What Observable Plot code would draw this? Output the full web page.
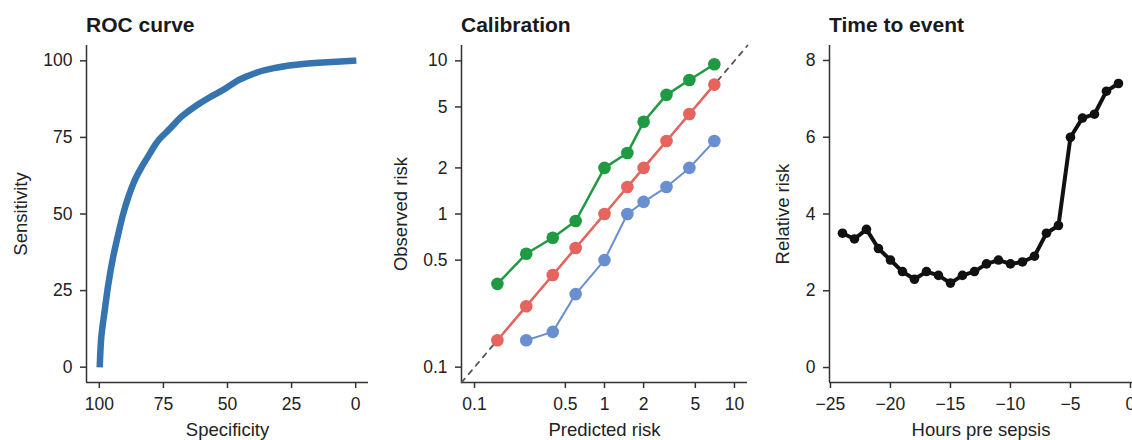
<!DOCTYPE html>
<html><head><meta charset="utf-8">
<script src="https://cdn.jsdelivr.net/npm/d3@7"></script>
<script src="https://cdn.jsdelivr.net/npm/@observablehq/plot@0.6"></script>
<style>
body{margin:0;background:#fff;font-family:"Liberation Sans",Arial,sans-serif;}
#wrap{position:relative;width:1132px;height:440px;overflow:hidden;background:#fff;}
.panel{position:absolute;top:0;}
.title{height:40px;position:relative;}
.title span{position:absolute;top:14px;font-weight:bold;font-size:21px;line-height:21px;color:#1a1a1a;white-space:nowrap;}
</style></head><body><div id="wrap"></div>
<script>
// ROC curve
const rocSpecificity = [99.8, 99.2, 97.9, 96.5, 94.6, 92.6, 90.7, 88.7, 86.2, 83.5, 80.3, 77.0, 72.5, 67.3, 62.1, 56.9, 51.7, 42.3, 31.9, 21.5, 11.1, 1.0];
const rocSensitivity = [1.0, 10.0, 18.5, 27.0, 36.0, 43.5, 50.0, 55.5, 61.0, 65.3, 69.7, 74.0, 77.8, 82.2, 85.4, 88.1, 90.5, 95.0, 97.6, 98.9, 99.5, 100.0];
const rocXTicks = [100, 75, 50, 25, 0];
const rocYTicks = [0, 25, 50, 75, 100];

// Calibration
const calibPredicted = [0.15, 0.25, 0.4, 0.6, 1, 1.5, 2, 3, 4.5, 7];
const calibGreen = [0.35, 0.55, 0.7, 0.9, 2, 2.5, 4, 6, 7.5, 9.5];
const calibRed = [0.15, 0.25, 0.4, 0.6, 1, 1.5, 2, 3, 4.5, 7];
const calibBluePredicted = [0.25, 0.4, 0.6, 1, 1.5, 2, 3, 4.5, 7];
const calibBlue = [0.15, 0.17, 0.3, 0.5, 1, 1.2, 1.5, 2, 3];
const calibDiagonal = [0.0794, 12.6];
const calibTicks = [0.1, 0.5, 1, 2, 5, 10];
const calibTickLabels = ["0.1", "0.5", "1", "2", "5", "10"];

// Time to event
const hours = [-24, -23, -22, -21, -20, -19, -18, -17, -16, -15, -14, -13, -12, -11, -10, -9, -8, -7, -6, -5, -4, -3, -2, -1];
const relativeRisk = [3.5, 3.35, 3.6, 3.1, 2.8, 2.5, 2.3, 2.5, 2.4, 2.2, 2.4, 2.5, 2.7, 2.8, 2.7, 2.75, 2.9, 3.5, 3.7, 6.0, 6.5, 6.6, 7.2, 7.4];
const timeXTicks = [-25, -20, -15, -10, -5, 0];
const timeYTicks = [0, 2, 4, 6, 8];

const titles = ["ROC curve", "Calibration", "Time to event"];
const colors = {roc: "#3674b0", green: "#1f9a42", red: "#e6635e", blue: "#6a8fd0", black: "#111111"};

const FONT = '"Liberation Sans", Arial, sans-serif';
const AX = "#333";
const TXT = "#222";

function axes({xTicks, yTicks, xText, yText, xLabel, yLabel, yLabelOffset}) {
  const tickOpts = {stroke: AX, strokeWidth: 1.5, fill: TXT, fontSize: 17.5, label: null};
  const labelOpts = {tickSize: 0, fill: TXT, fontSize: 18.5, labelAnchor: "center", labelArrow: "none"};
  return [
    Plot.axisX(xTicks, {...tickOpts, text: xText, tickSize: 6, tickPadding: 9}),
    Plot.axisY(yTicks, {...tickOpts, text: yText, tickSize: 6, tickPadding: 8}),
    Plot.axisX([], {...labelOpts, label: xLabel, labelOffset: 53}),
    Plot.axisY([], {...labelOpts, label: yLabel, labelOffset: yLabelOffset})
  ];
}

function panel(left, width, marginLeft, titleText, plot) {
  const div = document.createElement("div");
  div.className = "panel";
  div.style.left = left + "px";
  div.style.width = width + "px";
  const t = document.createElement("div");
  t.className = "title";
  const s = document.createElement("span");
  s.style.left = marginLeft + "px";
  s.textContent = titleText;
  t.appendChild(s);
  div.appendChild(t);
  div.appendChild(plot);
  document.getElementById("wrap").appendChild(div);
}

const common = {height: 400, marginTop: 5, marginBottom: 58, style: {fontFamily: FONT, fontSize: "17px", color: TXT, background: "#fff", overflow: "visible"}};
const intFmt = d3.format("d");

// Panel 1: ROC
const rocData = rocSpecificity.map((s, i) => ({spec: s, sens: rocSensitivity[i]}));
const rocXDomain = [105, -5], rocYDomain = [-5, 105];
const p1 = Plot.plot({
  ...common, width: 380, marginLeft: 86, marginRight: 12,
  x: {domain: rocXDomain},
  y: {domain: rocYDomain},
  marks: [
    Plot.ruleX([rocXDomain[0]], {stroke: AX, strokeWidth: 1.5}),
    Plot.ruleY([rocYDomain[0]], {stroke: AX, strokeWidth: 1.5}),
    ...axes({xTicks: rocXTicks, yTicks: rocYTicks, xText: d => intFmt(d), yText: d => intFmt(d), xLabel: "Specificity", yLabel: "Sensitivity", yLabelOffset: 73}),
    Plot.line(rocData, {x: "spec", y: "sens", stroke: colors.roc, strokeWidth: 6.5, strokeLinecap: "square", strokeLinejoin: "miter", curve: "monotone-y"})
  ]
});
panel(0, 380, 86, titles[0], p1);

// Panel 2: Calibration
const calDomain = [0.0794, 12.6];
const diag = calibDiagonal.map(v => ({x: v, y: v}));
const green = calibPredicted.map((x, i) => ({x, y: calibGreen[i]}));
const red = calibPredicted.map((x, i) => ({x, y: calibRed[i]}));
const blue = calibBluePredicted.map((x, i) => ({x, y: calibBlue[i]}));
const calLabel = d => calibTickLabels[calibTicks.indexOf(d)];
const p2 = Plot.plot({
  ...common, width: 380, marginLeft: 81, marginRight: 13,
  x: {type: "log", domain: calDomain},
  y: {type: "log", domain: calDomain},
  marks: [
    Plot.ruleX([calDomain[0]], {stroke: AX, strokeWidth: 1.5}),
    Plot.ruleY([calDomain[0]], {stroke: AX, strokeWidth: 1.5}),
    ...axes({xTicks: calibTicks, yTicks: calibTicks, xText: calLabel, yText: calLabel, xLabel: "Predicted risk", yLabel: "Observed risk", yLabelOffset: 68}),
    Plot.line(diag, {x: "x", y: "y", stroke: "#555", strokeWidth: 1.8, strokeDasharray: "5,6"}),
    Plot.line(blue, {x: "x", y: "y", stroke: colors.blue, strokeWidth: 2}),
    Plot.dot(blue, {x: "x", y: "y", r: 6.3, fill: colors.blue}),
    Plot.line(red, {x: "x", y: "y", stroke: colors.red, strokeWidth: 2.5}),
    Plot.dot(red, {x: "x", y: "y", r: 6.3, fill: colors.red}),
    Plot.line(green, {x: "x", y: "y", stroke: colors.green, strokeWidth: 2.5}),
    Plot.dot(green, {x: "x", y: "y", r: 6.3, fill: colors.green})
  ]
});
panel(380, 380, 81, titles[1], p2);

// Panel 3: Time to event
const tData = hours.map((h, i) => ({h, r: relativeRisk[i]}));
const tXDomain = [-25.08, 0.17], tYDomain = [-0.39, 8.39];
const p3 = Plot.plot({
  ...common, width: 372, marginLeft: 69, marginRight: 0,
  x: {domain: tXDomain},
  y: {domain: tYDomain},
  marks: [
    Plot.ruleX([tXDomain[0]], {stroke: AX, strokeWidth: 1.5}),
    Plot.ruleY([tYDomain[0]], {stroke: AX, strokeWidth: 1.5}),
    ...axes({xTicks: timeXTicks, yTicks: timeYTicks, xText: d => intFmt(d), yText: d => intFmt(d), xLabel: "Hours pre sepsis", yLabel: "Relative risk", yLabelOffset: 54}),
    Plot.line(tData, {x: "h", y: "r", stroke: colors.black, strokeWidth: 4}),
    Plot.dot(tData, {x: "h", y: "r", r: 4.8, fill: colors.black})
  ]
});
panel(760, 372, 69, titles[2], p3);
</script></body></html>
